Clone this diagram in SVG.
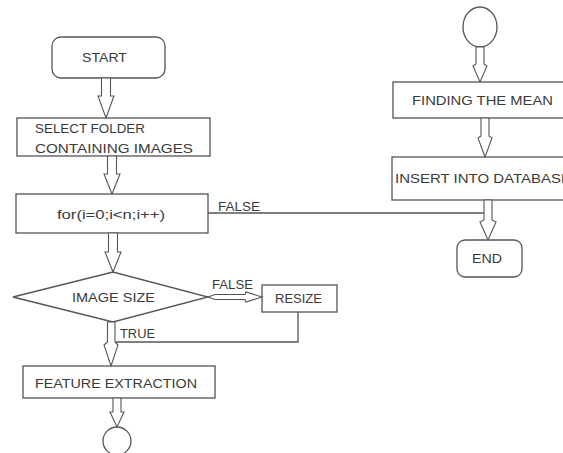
<svg xmlns="http://www.w3.org/2000/svg" width="563" height="453" viewBox="0 0 563 453">
<style>
.s{fill:#fff;stroke:#555;stroke-width:1.3}
.a{fill:#fff;stroke:#555;stroke-width:1.1}
.l{fill:none;stroke:#555;stroke-width:1.3}
text{font-family:"Liberation Sans","Open Sans",sans-serif;font-size:13px;fill:#3a3a3a}
</style>
<rect width="563" height="453" fill="#fff"/>
<g id="start"><rect class="s" x="52" y="37" width="113" height="41" rx="9"/><text x="82" y="62" textLength="45" lengthAdjust="spacingAndGlyphs">START</text></g>
<g id="select"><rect class="s" x="17" y="118" width="193" height="38"/><text x="35" y="133" textLength="110" lengthAdjust="spacingAndGlyphs">SELECT FOLDER</text><text x="35" y="153" textLength="158" lengthAdjust="spacingAndGlyphs">CONTAINING IMAGES</text></g>
<g id="loop"><rect class="s" x="16" y="194" width="192" height="39"/><text x="57" y="219" textLength="108" lengthAdjust="spacingAndGlyphs">for(i=0;i&lt;n;i++)</text></g>
<g id="imagesize"><polygon class="s" points="13,297 113,272 208,297 113,322"/><text x="72" y="302" textLength="83" lengthAdjust="spacingAndGlyphs">IMAGE SIZE</text></g>
<g id="resize"><rect class="s" x="262" y="285" width="75" height="27"/><text x="275" y="303" textLength="47" lengthAdjust="spacingAndGlyphs">RESIZE</text></g>
<g id="feature"><rect class="s" x="23" y="366" width="192" height="32"/><text x="35" y="388" textLength="162" lengthAdjust="spacingAndGlyphs">FEATURE EXTRACTION</text></g>
<g id="connector-a"><circle class="s" cx="117" cy="441" r="14"/></g>
<g id="connector-b"><ellipse class="s" cx="480" cy="27" rx="17" ry="20"/></g>
<g id="mean"><rect class="s" x="393" y="82" width="175" height="36"/><text x="412" y="105" textLength="141" lengthAdjust="spacingAndGlyphs">FINDING THE MEAN</text></g>
<g id="insert"><rect class="s" x="392" y="157" width="176" height="43"/><text x="395" y="183" textLength="176" lengthAdjust="spacingAndGlyphs">INSERT INTO DATABASE</text></g>
<g id="end"><rect class="s" x="457" y="240" width="65" height="37" rx="8"/><text x="472" y="263" textLength="30" lengthAdjust="spacingAndGlyphs">END</text></g>
<g id="connectors">
<polyline class="l" points="208,213 484,213"/>
<polyline class="l" points="298,312 298,342 116,342"/>
<polygon class="a" points="101.5,78 110.5,78 110.5,96 114,96 106,118 98,96 101.5,96"/>
<polygon class="a" points="107.5,156 116.5,156 116.5,174 120,174 112,194 104,174 107.5,174"/>
<polygon class="a" points="108.5,233 117.5,233 117.5,252 121,252 113,272 105,252 108.5,252"/>
<polygon class="a" points="107.5,322 115,322 115,342 118,345 111,366 104,345 107.5,342"/>
<polygon class="a" points="113,398 121,398 121,412 124,412 117,427 110,412 113,412"/>
<polygon class="a" points="476,47 484,47 484,64 487,66 480,82 473,66 476,64"/>
<polygon class="a" points="481,118 489,118 489,136 492,138 485,157 478,138 481,136"/>
<polygon class="a" points="484,200 492,200 492,220 496,222 488,240 480,222 484,220"/>
<polygon class="a" points="208,297 215,294.5 245,294.5 246,292 262,297 246,302 245,299.5 215,299.5"/>
</g>
<g id="labels">
<text x="218" y="211" textLength="42" lengthAdjust="spacingAndGlyphs">FALSE</text>
<text x="212" y="289" textLength="41" lengthAdjust="spacingAndGlyphs">FALSE</text>
<text x="120" y="338" textLength="35" lengthAdjust="spacingAndGlyphs">TRUE</text>
</g>
</svg>
